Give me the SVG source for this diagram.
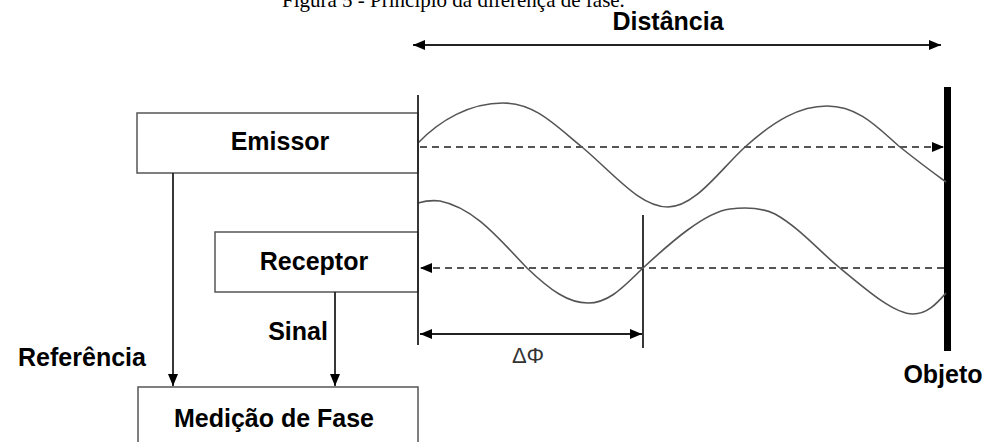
<svg xmlns="http://www.w3.org/2000/svg" width="991" height="442" viewBox="0 0 991 442">
<style>
.lbl{font-family:"Liberation Sans",Arial,sans-serif;font-weight:bold;font-size:25px;fill:#000}
.box{fill:#fff;stroke:#555;stroke-width:1.5}
.wave{fill:none;stroke:#555;stroke-width:1.6}
.dash{stroke:#555;stroke-width:2.2;stroke-dasharray:7 5;fill:none}
.ln{stroke:#222;stroke-width:1.8;fill:none}
</style>
<defs>
<marker id="ah" viewBox="0 0 12 10" refX="12" refY="5" markerWidth="12" markerHeight="10" markerUnits="userSpaceOnUse" orient="auto-start-reverse">
<path d="M0,0 L12,5 L0,10 z" fill="#000"/>
</marker>
</defs>
<rect width="991" height="442" fill="#fff"/>
<text x="282" y="7" font-family="'Liberation Serif','Times New Roman',serif" font-size="21" fill="#000">Figura 5 - Princípio da diferença de fase.</text>
<g id="distancia">
<text class="lbl" x="668" y="30" text-anchor="middle">Distância</text>
<line class="ln" x1="413" y1="45" x2="941" y2="45" marker-start="url(#ah)" marker-end="url(#ah)"/>
</g>
<g id="emissor">
<rect class="box" x="137" y="113" width="281" height="60"/>
<text class="lbl" x="280" y="150" text-anchor="middle" font-size="26">Emissor</text>
</g>
<g id="receptor">
<rect class="box" x="215" y="232" width="203" height="60"/>
<text class="lbl" x="314" y="270" text-anchor="middle" font-size="26">Receptor</text>
</g>
<g id="medicao">
<rect class="box" x="138" y="387" width="280" height="62"/>
<text class="lbl" x="274" y="427" text-anchor="middle">Medição de Fase</text>
</g>
<g id="objeto">
<rect x="944" y="87" width="7" height="264" fill="#000"/>
<text class="lbl" x="943" y="383" text-anchor="middle" font-size="26">Objeto</text>
</g>
<g id="waves">
<path class="wave" d="M418,143 C440,120 470,103 503,103 C535,103 555,125 582,147 C615,175 640,207 668,207 C695,207 720,170 745,147 C775,120 800,106 827,106 C860,106 880,130 900,147 C920,163 935,174 946,182"/>
<path class="wave" d="M418,203 C425,201 432,200 440,201 C475,208 500,240 527,268 C550,290 568,303 588,303 C610,303 625,285 643,268 C670,243 705,212 730,209 C745,207 760,207 775,214 C800,228 820,252 840,268 C870,293 895,314 913,314 C928,314 938,302 946,293"/>
</g>
<g id="connectors">
<line class="ln" x1="418" y1="95" x2="418" y2="345"/>
<line class="ln" x1="643" y1="215" x2="643" y2="348"/>
<line class="dash" x1="420" y1="147" x2="944" y2="147" marker-end="url(#ah)"/>
<line class="dash" x1="944" y1="268" x2="420" y2="268" marker-end="url(#ah)"/>
<line class="ln" x1="420" y1="334" x2="642" y2="334" marker-start="url(#ah)" marker-end="url(#ah)"/>
<text x="528" y="363" text-anchor="middle" font-family="'Liberation Sans',Arial,sans-serif" font-size="22" fill="#333">ΔΦ</text>
<line class="ln" x1="173" y1="173" x2="173" y2="386" marker-end="url(#ah)"/>
<line class="ln" x1="335" y1="292" x2="335" y2="386" marker-end="url(#ah)"/>
<text class="lbl" x="298" y="340" text-anchor="middle">Sinal</text>
<text class="lbl" x="82" y="366" text-anchor="middle" font-size="27">Referência</text>
</g>
</svg>
